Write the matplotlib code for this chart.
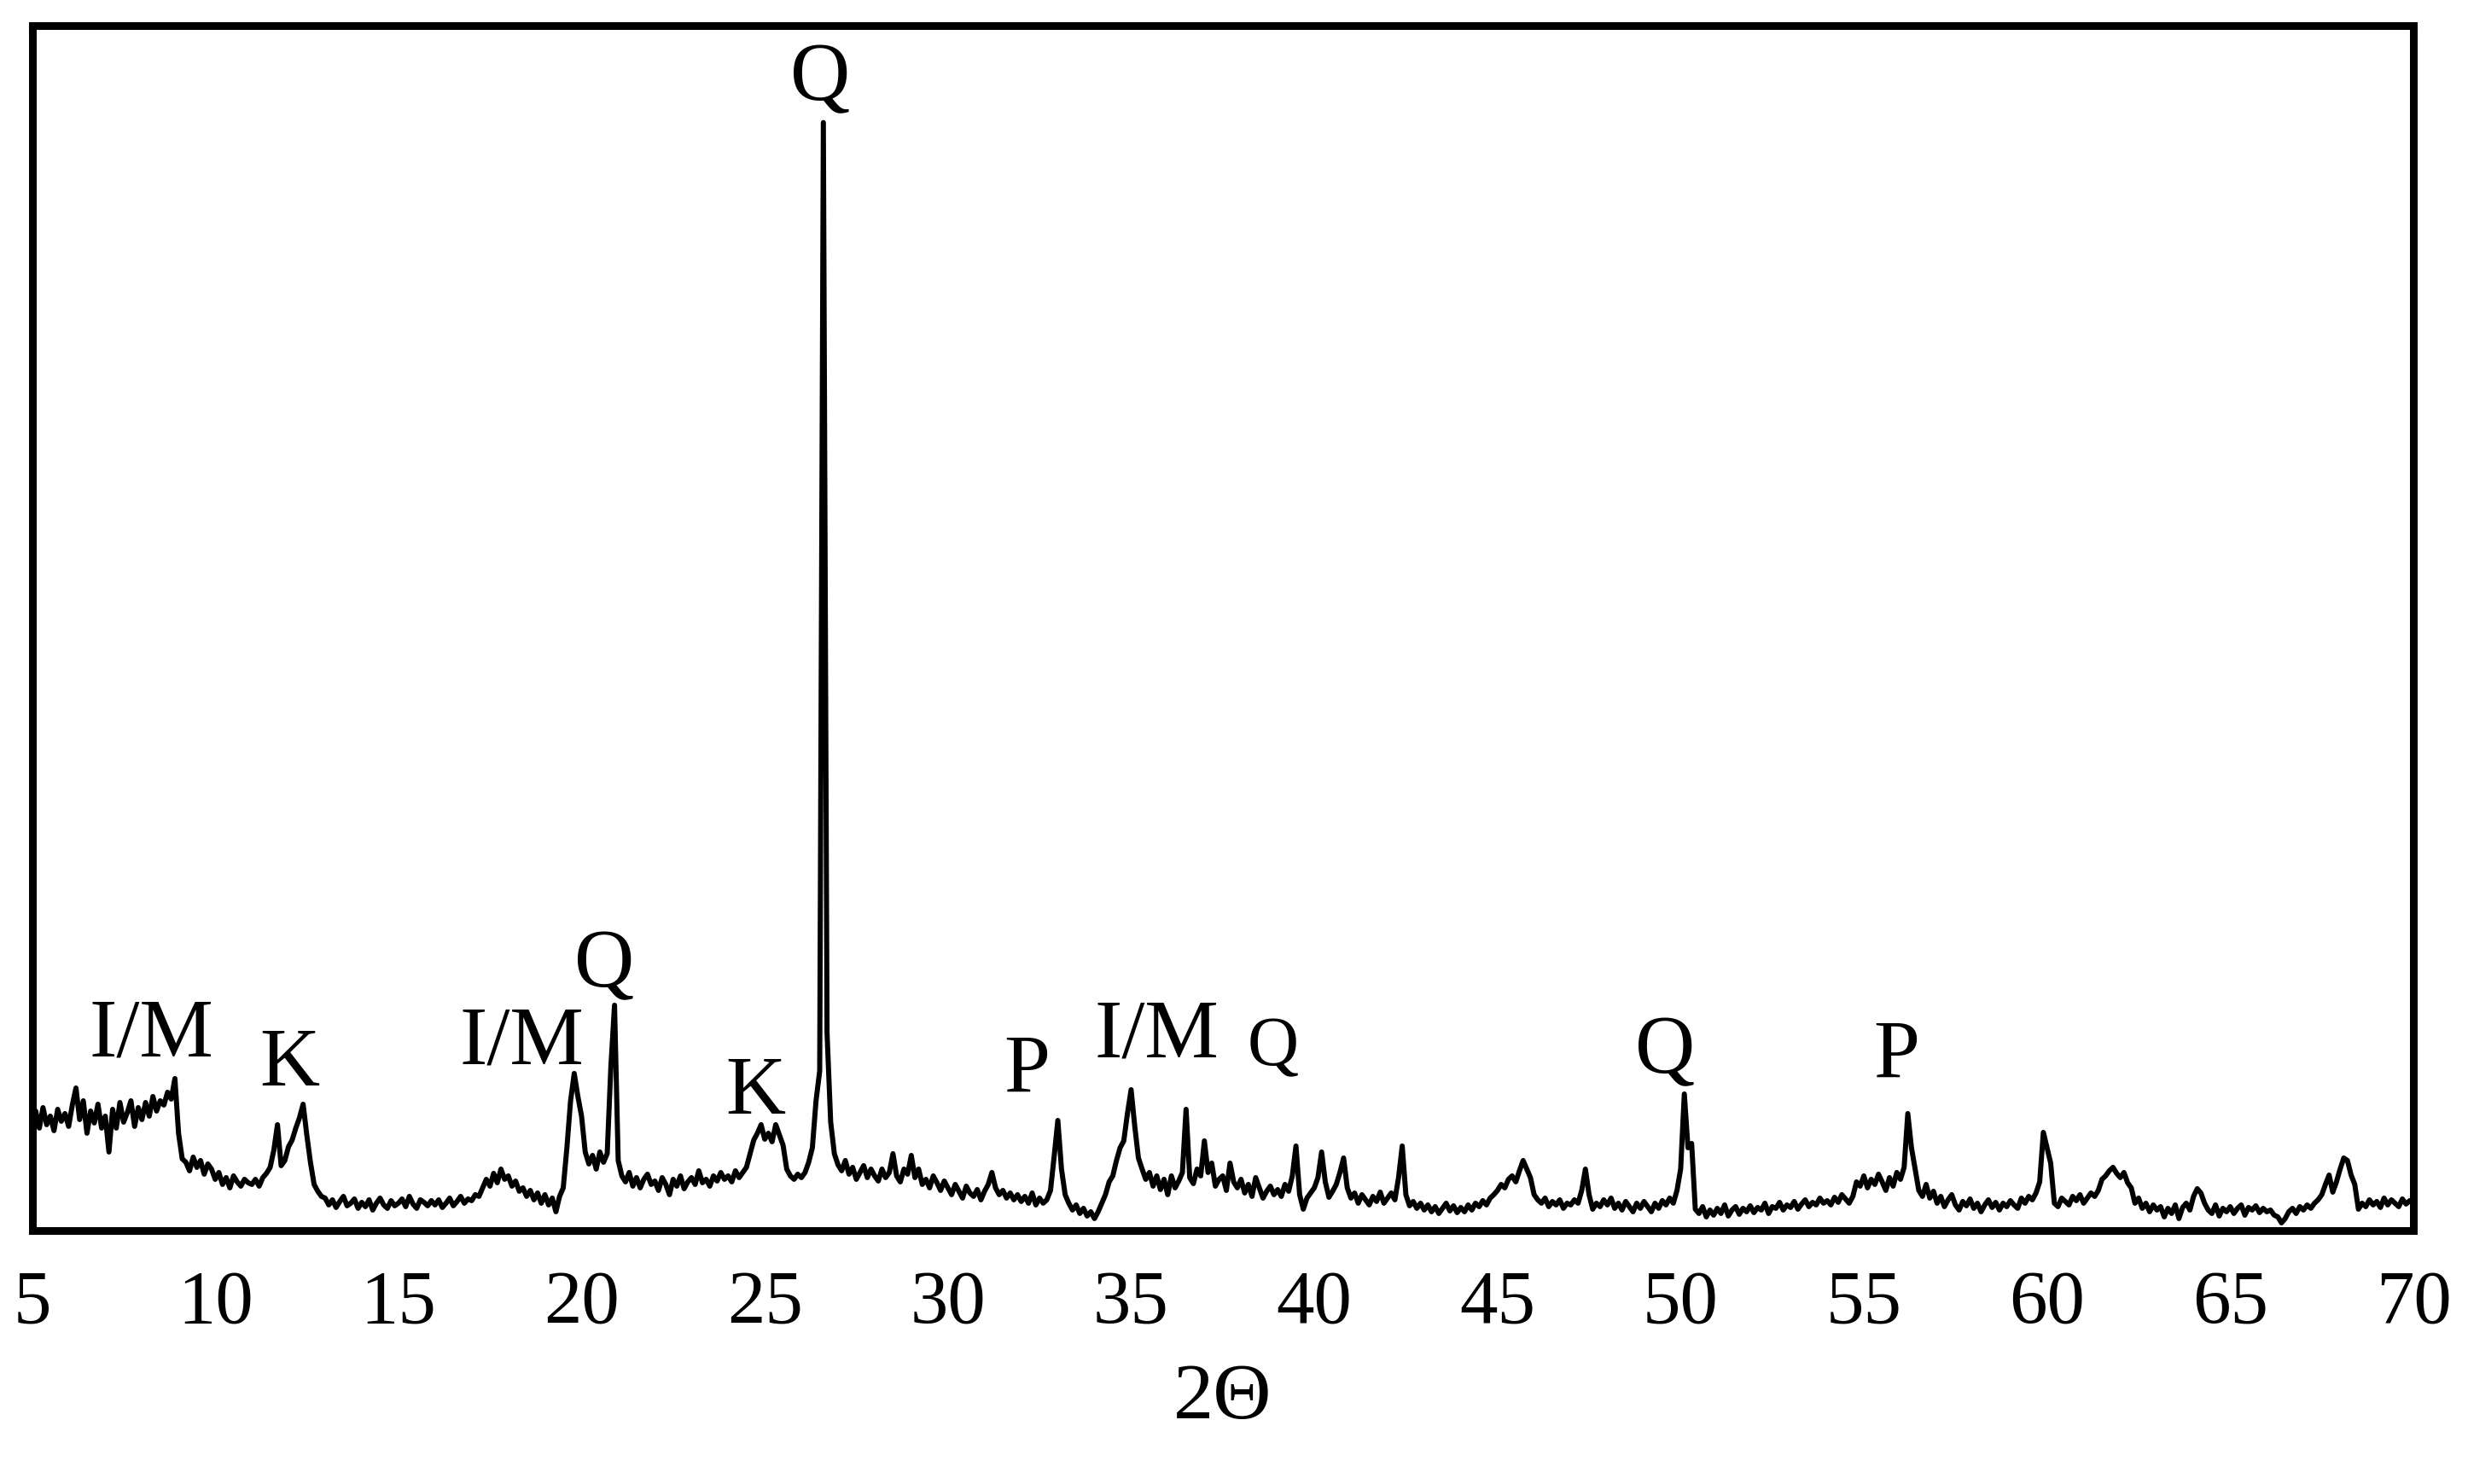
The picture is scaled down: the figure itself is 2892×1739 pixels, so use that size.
import numpy as np
import matplotlib
matplotlib.use("Agg")
import matplotlib.pyplot as plt

plt.rcParams['font.family'] = ['Liberation Serif', 'DejaVu Serif']

# intensity, 0.1 deg steps (arbitrary units)
int_05_10 = [125, 138, 118, 142, 122, 132, 115, 140, 126, 135,
             120, 145, 165, 128, 150, 112, 138, 124, 146, 118,
             132, 90, 140, 118, 148, 125, 136, 150, 120, 142,
             128, 148, 132, 155, 138, 150, 145, 160, 152, 176,
             112, 82, 78, 68, 84, 72, 80, 64, 76, 70]
int_10_15 = [58, 66, 52, 60, 48, 62, 55, 50, 58, 54,
             52, 58, 50, 60, 65, 72, 92, 122, 74, 80,
             96, 104, 118, 130, 146, 110, 78, 52, 44, 38,
             36, 28, 34, 25, 32, 38, 27, 30, 35, 24,
             31, 26, 34, 22, 30, 36, 28, 24, 33, 27]
int_15_20 = [30, 35, 26, 38, 29, 24, 34, 31, 27, 33,
             28, 34, 25, 30, 36, 27, 32, 38, 30, 35,
             33, 40, 38, 48, 58, 50, 65, 54, 70, 58,
             62, 50, 56, 44, 48, 38, 45, 34, 42, 30,
             40, 28, 36, 20, 38, 48, 95, 150, 182, 155]
int_20_25 = [132, 90, 76, 86, 70, 90, 78, 88, 190, 262,
             80, 62, 55, 66, 50, 60, 48, 58, 64, 52,
             56, 45, 60, 52, 40, 58, 50, 62, 47, 55,
             60, 52, 68, 54, 58, 50, 62, 56, 66, 58,
             62, 55, 68, 60, 66, 72, 88, 104, 112, 122]
int_25_30 = [105, 112, 102, 122, 110, 98, 70, 62, 58, 64,
             60, 66, 78, 95, 150, 185, 1296, 230, 125, 88,
             75, 68, 80, 64, 72, 58, 66, 74, 60, 70,
             62, 56, 70, 60, 66, 88, 62, 55, 70, 64,
             86, 60, 70, 52, 58, 48, 62, 54, 45, 56]
int_30_35 = [48, 40, 52, 44, 36, 50, 42, 38, 46, 34,
             44, 52, 66, 48, 40, 45, 36, 42, 34, 40,
             32, 38, 30, 42, 28, 36, 30, 34, 45, 85,
             127, 70, 40, 30, 22, 28, 18, 24, 15, 20,
             12, 20, 30, 40, 55, 62, 80, 95, 103, 135]
int_35_40 = [163, 120, 83, 70, 58, 66, 50, 62, 46, 58,
             40, 62, 48, 56, 66, 140, 60, 53, 70, 62,
             103, 66, 77, 50, 58, 62, 45, 77, 55, 48,
             58, 42, 52, 38, 60, 48, 36, 44, 50, 40,
             46, 38, 52, 44, 62, 97, 40, 23, 36, 42]
int_40_45 = [48, 60, 90, 55, 37, 44, 52, 66, 83, 48,
             36, 42, 30, 40, 34, 28, 38, 32, 43, 30,
             36, 42, 34, 60, 97, 40, 27, 32, 24, 30,
             22, 28, 20, 26, 18, 24, 30, 21, 27, 19,
             25, 20, 28, 22, 30, 26, 33, 28, 36, 40]
int_45_50 = [45, 52, 48, 58, 62, 55, 68, 80, 70, 60,
             40, 34, 30, 36, 26, 32, 28, 34, 24, 30,
             28, 34, 30, 45, 70, 40, 23, 30, 26, 34,
             28, 36, 24, 30, 22, 32, 26, 20, 30, 24,
             32, 26, 20, 30, 24, 33, 28, 36, 30, 45]
int_50_55 = [70, 158, 95, 100, 23, 18, 26, 14, 22, 16,
             24, 18, 28, 15, 22, 26, 17, 24, 20, 27,
             19, 25, 22, 30, 18, 26, 24, 31, 22, 28,
             25, 32, 23, 29, 34, 26, 31, 28, 36, 30,
             33, 28, 37, 31, 40, 35, 30, 38, 55, 50]
int_55_60 = [62, 48, 58, 52, 64, 55, 45, 60, 50, 66,
             58, 72, 135, 95, 70, 45, 38, 52, 36, 44,
             30, 38, 26, 34, 40, 28, 22, 32, 27, 35,
             24, 30, 20, 28, 34, 25, 31, 22, 30, 26,
             33, 28, 24, 36, 30, 38, 34, 42, 55, 113]
int_60_65 = [95, 77, 30, 26, 36, 32, 28, 38, 33, 40,
             30, 36, 42, 38, 45, 58, 62, 68, 72, 65,
             60, 66, 54, 48, 30, 36, 24, 30, 20, 28,
             22, 26, 14, 24, 18, 28, 12, 25, 30, 22,
             38, 47, 42, 30, 22, 18, 28, 15, 24, 20]
int_65_70 = [26, 18, 24, 28, 16, 25, 22, 27, 19, 24,
             20, 22, 16, 14, 7, 12, 20, 24, 18, 26,
             22, 28, 24, 30, 34, 40, 52, 63, 43, 55,
             70, 83, 80, 63, 52, 23, 30, 26, 34, 28,
             32, 25, 36, 28, 34, 30, 26, 35, 29, 33,
             30]

intensity = np.array(int_05_10 + int_10_15 + int_15_20 + int_20_25 + int_25_30
                     + int_30_35 + int_35_40 + int_40_45 + int_45_50 + int_50_55
                     + int_55_60 + int_60_65 + int_65_70, dtype=float)
two_theta = np.linspace(5, 70, len(intensity))

# phase labels
phase_names = ["I/M", "K", "I/M", "Q", "K", "Q", "P", "I/M", "Q", "Q", "P"]
phase_x = [8.25, 12.02, 18.38, 20.62, 24.74, 26.52, 32.15, 35.71, 38.88, 49.58, 55.89]
phase_y = [202, 168, 193, 284, 135, 1322, 160, 201, 192, 183, 177]

xticks = [5, 10, 15, 20, 25, 30, 35, 40, 45, 50, 55, 60, 65, 70]

fig = plt.figure(figsize=(28.92, 17.39), dpi=100)
ax = fig.add_axes([0.01297, 0.1708, 0.9649, 0.8122])

ax.plot(two_theta, intensity, color='black', linewidth=4.3)

for name, x, y in zip(phase_names, phase_x, phase_y):
    size = 60 if (name == "Q" and 38 < x < 40) else 70
    ax.text(x, y, name, ha='center', va='baseline', fontsize=size)

ax.set_xlim(5, 70)
ax.set_ylim(-2, 1410)
ax.set_xticks(xticks)
ax.set_yticks([])
ax.tick_params(axis='x', length=0, pad=33, labelsize=64)
ax.set_xlabel("2Θ", fontsize=68, labelpad=20)
for s in ax.spines.values():
    s.set_linewidth(6.5)

fig.savefig("out.png", dpi=100)
